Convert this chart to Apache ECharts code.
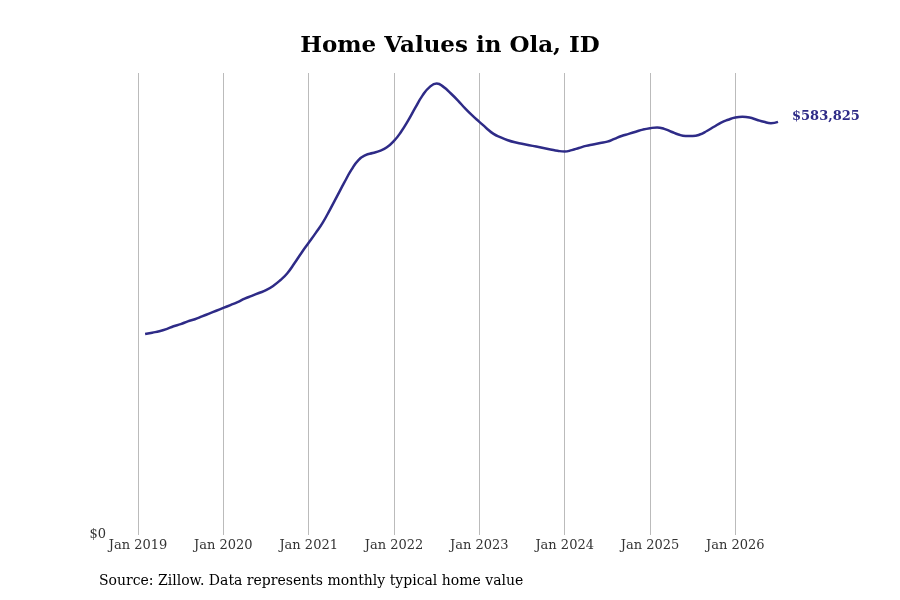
<!DOCTYPE html>
<html>
<head>
	<meta charset="utf-8">
	<title>Home Values in Ola, ID</title>
	<script src="https://cdn.jsdelivr.net/npm/echarts@6/dist/echarts.min.js"></script>
</head>
<body style="margin:0">
	<div id="main" style="width:900px;height:600px;"></div>
	<script type="text/javascript">
		// months since Jan 2019, first point is Feb 2019
		var startMonth = 1;
		var values = [284000, 286000, 288000, 291000, 295000, 298000, 302000, 305000, 309000, 313000,
			317000, 321000, 325000, 329000, 334000, 338000, 342000, 346000, 352000, 360000,
			370000, 384000, 399000, 413000, 427000, 442000, 460000, 479000, 498000, 516000,
			530000, 537000, 540000, 543000, 548000, 557000, 570000, 586000, 604000, 621000,
			633000, 638000, 633000, 624000, 614000, 603000, 593000, 584000, 575000, 567000,
			562000, 558000, 555000, 553000, 551000, 549000, 547000, 545000, 543000, 542000,
			544000, 547000, 550000, 552000, 554000, 556000, 560000, 564000, 567000, 570000,
			573000, 575000, 576000, 574000, 570000, 566000, 564000, 564000, 566000, 571000,
			577000, 583000, 587000, 590000, 591000, 590000, 587000, 584000, 582000, 583825];
		var serif = '"DejaVu Serif", serif';

		var points = values.map(function (v, i) { return [startMonth + i, v]; });
		var myChart = echarts.init(document.getElementById('main'));
		var option = {
			title: {
				text: 'Home Values in Ola, ID',
				left: 'center',
				top: 30,
				textStyle: { fontFamily: serif, fontSize: 23, fontWeight: 'bold', color: '#000' }
			},
			graphic: [{
				type: 'text',
				left: 99,
				top: 574,
				style: { text: 'Source: Zillow. Data represents monthly typical home value', font: '14px ' + serif, fill: '#000' }
			}],
			grid: { left: 138, right: 122, top: 73, bottom: 65 },
			xAxis: {
				type: 'value',
				min: 0,
				max: 90,
				interval: 12,
				axisLine: { show: false },
				axisTick: { show: false },
				splitLine: { show: true, showMaxLine: false, lineStyle: { color: '#bbb', width: 1 } },
				axisLabel: {
					fontFamily: serif, fontSize: 13, color: '#333', margin: 4,
					formatter: function (v) { return v % 12 === 0 && v < 90 ? 'Jan ' + (2019 + v / 12) : ''; }
				}
			},
			yAxis: {
				type: 'value',
				min: 0,
				max: 653000,
				interval: 653000,
				axisLine: { show: false },
				axisTick: { show: false },
				splitLine: { show: false },
				axisLabel: {
					fontFamily: serif, fontSize: 13, color: '#333', margin: 32,
					formatter: function (v) { return v === 0 ? '$0' : ''; }
				}
			},
			series: [{
				type: 'line',
				data: points,
				smooth: true,
				showSymbol: false,
				lineStyle: { color: '#2e2b87', width: 2.5 },
				endLabel: {
					show: true,
					distance: 14,
					offset: [0, -5],
					fontFamily: serif, fontSize: 13, fontWeight: 'bold', color: '#2e2b87',
					formatter: function (p) { return '$' + p.value[1].toLocaleString('en-US'); }
				}
			}]
		};
		myChart.setOption(option);
	</script>
</body>
</html>
